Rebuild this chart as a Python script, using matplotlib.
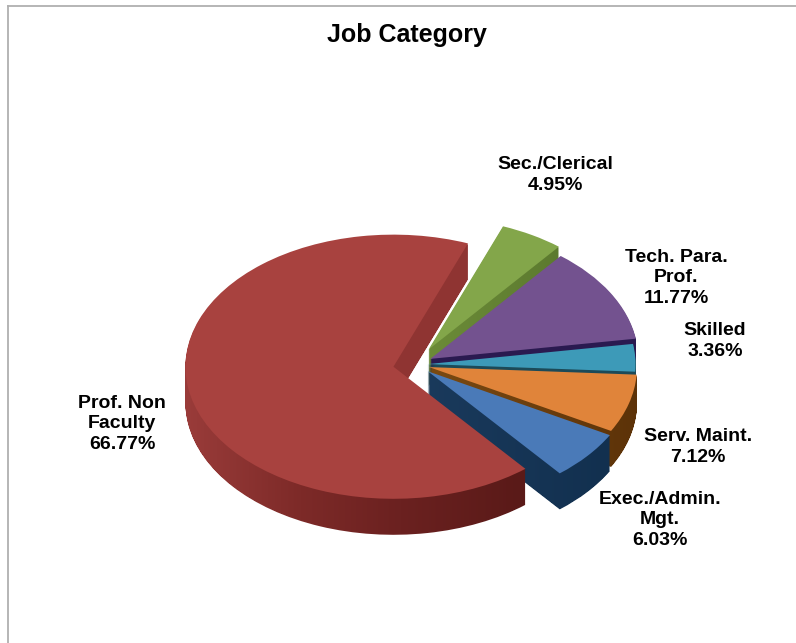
import numpy as np
import matplotlib
matplotlib.use("Agg")
import matplotlib.pyplot as plt
from matplotlib.colors import to_rgb
from matplotlib.patches import PathPatch
from matplotlib.path import Path

plt.rcParams['font.family'] = ['Liberation Sans', 'DejaVu Sans']

title = "Job Category"
categories = ["Sec./Clerical", "Tech. Para.\nProf.", "Skilled", "Serv. Maint.", "Exec./Admin.\nMgt.", "Prof. Non\nFaculty"]
shares = [4.95, 11.77, 3.36, 7.12, 6.03, 66.77]

explode = [0.13, 0.085, 0.06, 0.07, 0.08, 0.105]
top_colors = ["#83a64a", "#73528f", "#3d9ab8", "#e0843a", "#4a7ab8", "#a8423f"]
side_stops = [
    ["#6f8f3a", "#5c7a2f"],
    ["#2a1a50", "#2a1a50"],
    ["#1c4a58", "#1c4a58"],
    ["#7a4a12", "#5c3208"],
    ["#1a3a5c", "#12304f"],
    ["#9a3c3a", "#7d2a28", "#6b2120", "#5a1a18"],
]
side_x = [[400, 560], [400, 640], [400, 640], [430, 640], [420, 610], [184, 300, 400, 520]]
wall_color = "#8f3432"
label_pos = [(555, 175), (676, 278), (715, 341), (698, 447), (660, 520), (122, 424)]

W, H = 796, 643
YS = 0.635
cx, cy = 415, 364.5
R = 208
depth = 36
start = 69

fig = plt.figure(figsize=(W / 100, H / 100), dpi=100, facecolor="white")
ax = fig.add_axes([0, 0, 1, 1])


def py(v):
    return (H - v) / YS


offsets = [e * R for e in explode]
n = len(shares)
layers = [[] for _ in range(n)]
for k in range(1, depth + 1):
    wedges, _ = ax.pie(shares, explode=offsets, startangle=start, counterclock=False,
                       radius=R, center=(cx, py(cy + k)), frame=True)
    for i, w in enumerate(wedges):
        layers[i].append(w.get_path().transformed(w.get_patch_transform()))
        w.remove()

xs = np.arange(W)
for i in range(n):
    stops = [to_rgb(c) for c in side_stops[i]]
    col = np.stack([np.interp(xs, side_x[i], [s[ch] for s in stops]) for ch in range(3)], axis=1)
    img = np.repeat(col[None, :, :], H, axis=0)
    if categories[i].startswith("Prof"):
        img[:420, 380:] = to_rgb(wall_color)
    im = ax.imshow(img, extent=(0, W, py(H), py(0)), origin="upper", aspect="auto",
                   zorder=10 + 2 * i, interpolation="nearest")
    clip = PathPatch(Path.make_compound_path(*layers[i]), transform=ax.transData,
                     facecolor="none", edgecolor="none")
    ax.add_patch(clip)
    im.set_clip_path(clip)

wedges, _ = ax.pie(shares, explode=offsets, startangle=start, counterclock=False,
                   radius=R, center=(cx, py(cy)), colors=top_colors, frame=True)
for i, w in enumerate(wedges):
    w.set_zorder(11 + 2 * i)
    w.set_edgecolor("none")

ax.set_aspect("auto")
ax.set_xlim(0, W)
ax.set_ylim(0, py(0))
ax.axis("off")

# chart frame: top and left only
ax.plot([7.5, 7.5], [py(6), py(H)], color="#b0b0b0", lw=1.3, zorder=1, clip_on=False)
ax.plot([7.5, W], [py(6), py(6)], color="#b0b0b0", lw=1.3, zorder=1, clip_on=False)

ax.text(407, py(35), title, ha="center", va="center", fontsize=18, fontweight="bold", zorder=50)
for lab, val, (x, y) in zip(categories, shares, label_pos):
    ax.text(x, py(y), f"{lab}\n{val:.2f}%", ha="center", va="center", fontsize=14,
            fontweight="bold", linespacing=1.3, zorder=50)

fig.savefig("out.png", dpi=100)
